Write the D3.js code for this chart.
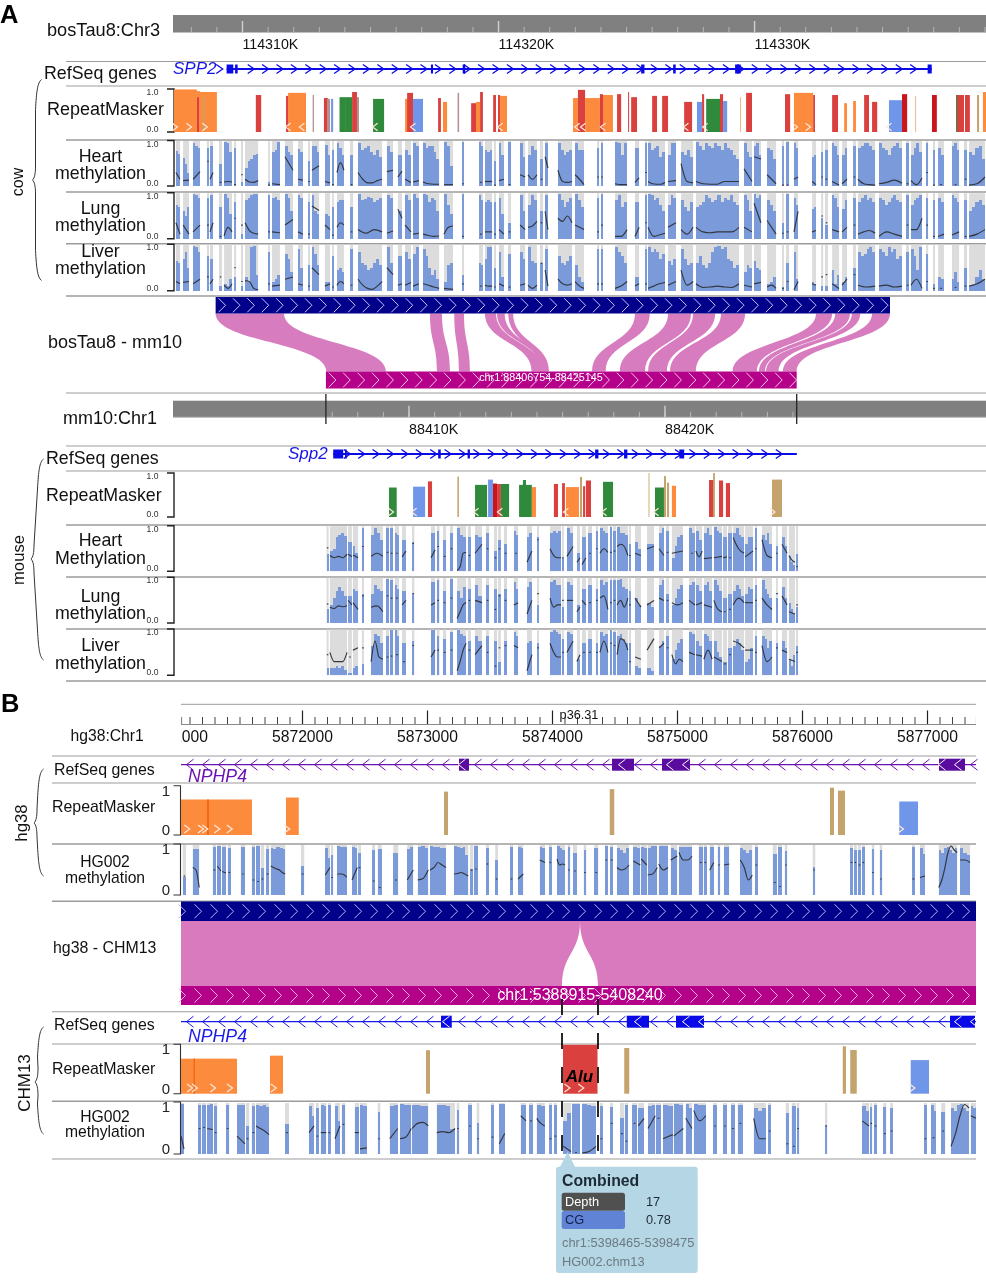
<!DOCTYPE html>
<html><head><meta charset="utf-8"><title>Genome browser tracks</title>
<script src="https://cdn.jsdelivr.net/npm/d3@7/dist/d3.min.js"></script>
<style>html,body{margin:0;padding:0;background:#fff}svg{display:block;font-family:"Liberation Sans",Arial,sans-serif;filter:blur(.35px)}</style>
</head><body><svg id="c" width="986" height="1280"></svg>
<script>
// ---------- Panel A data: positions in kb after the origins below ----------
const cowOrigin = 114300, mouseOrigin = 88400;
const cowDomain = [7.285, 39.04], mouseDomain = [0.781, 32.54];
const cowMajorTicks = [10, 20, 30], mouseMajorTicks = [10, 20];
const cowExons = [[9.38,9.64],[9.71,9.81],[17.36,17.44],[18.60,18.70],[25.57,25.70],[26.82,26.92],[29.24,29.46],[36.76,36.92]];
const mouseExons = [[7.04,7.43],[7.50,7.57],[11.14,11.24],[12.29,12.38],[17.27,17.40],[18.40,18.53],[20.56,20.75]];
const cowGeneSpan = [9.38,36.92], mouseGeneSpan = [7.04,25.15];
const cowAlignSpan = [8.95,35.29], mouseAlignSpan = [6.754,25.145];
// [cow start, cow end, mouse start, mouse end]
const cowMouseRibbons = [[8.95,11.62,6.77,9.10],[17.32,17.79,11.09,11.60],[18.27,18.65,11.95,12.38],[19.47,19.90,14.79,15.23],[19.94,20.24,15.23,15.35],[20.38,20.57,15.12,15.47],[25.33,25.91,17.15,17.68],[26.62,27.52,18.24,19.22],[27.60,28.46,19.34,20.08],[28.69,29.63,20.20,21.21],[32.40,33.03,22.64,23.59],[33.15,33.73,23.67,23.91],[33.80,34.13,23.95,24.44],[34.59,35.29,24.61,25.145]];
// [start, end, height, family]
const cowRepeats = [[7.32,8.22,.99,"LINE"],[8.22,8.34,.95,"LINE"],[8.34,9.00,.93,"LINE"],[8.22,8.30,.81,"SINE"],[8.46,8.52,.81,"Simple"],[10.52,10.73,.86,"SINE"],[11.78,12.48,.91,"LINE"],[11.70,11.78,.84,"SINE"],[12.74,12.79,.86,"Low"],[13.18,13.34,.79,"SINE"],[13.30,13.42,.77,"Low"],[13.46,13.54,.77,"DNA"],[13.79,14.04,.81,"LTR"],[14.04,14.28,.81,"LTR"],[14.28,14.47,.93,"SINE"],[14.47,14.55,.81,"Low"],[15.10,15.53,.77,"LTR"],[16.35,16.46,.77,"LINE"],[16.43,16.66,.91,"SINE"],[16.66,17.05,.77,"DNA"],[17.64,17.75,.79,"SINE"],[17.83,17.99,.70,"LINE"],[18.40,18.46,.91,"Low"],[18.93,19.12,.67,"SINE"],[19.12,19.28,.70,"LINE"],[19.28,19.39,.93,"SINE"],[19.79,19.90,.86,"SINE"],[19.98,20.06,.86,"SINE"],[20.06,20.33,.84,"LINE"],[22.91,23.10,.79,"LINE"],[23.10,23.38,.98,"SINE"],[23.38,23.96,.79,"LINE"],[23.96,24.08,.88,"SINE"],[24.08,24.47,.86,"LINE"],[24.63,24.79,.88,"SINE"],[25.06,25.10,.93,"SINE"],[25.18,25.41,.81,"SINE"],[26.00,26.19,.84,"SINE"],[26.39,26.62,.84,"SINE"],[27.25,27.56,.70,"SINE"],[27.75,27.95,.70,"DNA"],[27.95,28.03,.88,"SINE"],[28.11,28.65,.77,"LTR"],[28.65,28.77,.88,"SINE"],[28.77,28.93,.72,"DNA"],[29.43,29.47,.81,"Peach"],[29.67,29.90,.91,"SINE"],[31.19,31.39,.88,"SINE"],[31.54,32.29,.91,"LINE"],[32.29,32.36,.86,"SINE"],[33.03,33.26,.86,"SINE"],[33.50,33.61,.67,"LINE"],[33.85,33.96,.72,"LINE"],[34.28,34.47,.86,"SINE"],[34.59,34.79,.70,"SINE"],[35.25,35.76,.74,"DNA"],[35.76,35.96,.88,"DarkSINE"],[36.27,36.31,.84,"Peach"],[36.93,37.12,.86,"DarkSINE"],[37.87,37.95,.86,"LTR"],[37.91,38.18,.86,"SINE"],[38.22,38.41,.86,"SINE"],[38.69,38.77,.86,"Simple"],[38.92,39.04,.93,"LINE"]];
const cowRepeatArrows = [[7.36,1],[7.91,1],[8.53,1],[11.78,-1],[12.32,-1],[15.18,-1],[16.66,-1],[20.06,-1],[23.07,-1],[23.30,-1],[24.08,-1],[27.32,-1],[28.07,-1],[31.58,1],[32.09,1],[35.25,-1]];
const mouseRepeats = [[9.22,9.52,.67,"LTR"],[10.16,10.63,.69,"DNA"],[10.74,10.90,.81,"SINE"],[11.89,11.95,.92,"Simple"],[12.58,13.05,.73,"LTR"],[13.09,13.28,.85,"DNA"],[13.28,13.44,.76,"DarkSINE"],[13.44,13.59,.75,"SINE"],[13.59,13.91,.75,"LTR"],[14.30,14.80,.73,"LTR"],[14.45,14.57,.84,"LTR"],[14.80,14.96,.68,"LINE"],[15.66,15.82,.75,"SINE"],[15.98,16.09,.77,"SINE"],[16.13,16.64,.68,"LINE"],[16.68,16.76,.91,"Simple"],[16.80,16.88,.70,"SINE"],[16.91,17.11,.83,"SINE"],[17.58,17.97,.80,"LTR"],[19.34,19.41,1.0,"Pale"],[19.61,19.96,.67,"LTR"],[19.96,20.04,.93,"Simple"],[20.08,20.16,.78,"Simple"],[20.27,20.43,.71,"LINE"],[21.72,21.91,.84,"SINE"],[21.88,21.95,1.0,"Simple"],[22.11,22.27,.83,"SINE"],[22.38,22.54,.77,"SINE"],[24.18,24.57,.85,"Simple"]];
const mouseRepeatArrows = [[9.30,1],[10.20,-1],[12.62,-1],[13.55,-1],[16.13,-1],[17.62,-1],[19.65,-1],[24.20,1]];

const cowBlocks = [[7.40,7.56],[7.68,7.91],[8.07,8.34],[8.61,8.69],[8.73,8.85],[9.08,9.20],[9.28,9.59],[9.67,9.75],[9.94,10.02],[10.10,10.61],[11.00,11.07],[11.15,11.46],[11.66,11.97],[12.17,12.36],[12.56,12.64],[12.71,12.99],[13.22,13.42],[13.50,13.57],[13.69,13.96],[14.20,14.32],[14.51,15.45],[15.64,15.88],[16.07,16.23],[16.35,16.58],[16.66,16.89],[17.05,17.68],[17.87,18.22],[18.57,18.65],[19.24,19.39],[19.47,19.75],[19.82,19.90],[20.02,20.21],[20.37,20.49],[20.84,21.04],[21.15,21.50],[21.62,21.74],[21.82,21.93],[22.32,22.87],[22.99,23.34],[23.85,23.93],[24.00,24.08],[24.55,25.02],[25.33,25.49],[25.72,25.80],[25.84,26.50],[26.62,26.93],[27.13,27.60],[27.71,29.39],[29.59,29.90],[29.98,30.25],[30.49,30.84],[31.07,31.15],[31.23,31.35],[31.54,31.70],[32.25,32.40],[32.60,32.68],[32.75,32.87],[33.03,33.30],[33.42,33.61],[33.85,33.96],[34.04,34.71],[34.86,35.76],[35.92,36.03],[36.11,36.54],[36.70,36.78],[36.97,37.05],[37.17,37.40],[37.71,37.99],[38.18,38.30],[38.38,39.00]];
const cowHeart = [[.78,.72],[.62,.5,.3],[.95,.9,.85],[.85],[.9],[.5],[.98,.95,.75],[.85],[.1],[.4,.55,.6,.68,.72],[.1],[.75,.8,.98],[.88,.75,.7],[.82,.75],[.55],[.9,.88,.75],[.92,.7],[.8],[.95,.85,.7],[.7],[.95,.8,.85,.9,.75,.7,.8,.65],[.9,.75],[.7],[.8,.7],[.95,.9],[.95,.85,.9,.9,.75,.6],[.98,.9,.45],[.98],[.98,.9],[.8,.75,.8],[.55],[.95,.7],[.98],[.95,.65],[.7,.9,.8],[.6],[.95],[.95,.8,.7,.75,.8],[.95,.8,.8],[.85],[.95],[.98,.95,.7,.95],[.85],[.95],[.95,.8,.85,.9,.65,.75],[.7,.95,.95],[.75,.7,.8,.65],[.98,.9,.8,.95,.9,.85,.95,.9,.8,.95,.85,.8,.7,.6],[.95,.75,.65],[.9,.95,.7],[.85,.8,.6],[.9],[.98],[.95,.85],[.65,.7],[.75],[.8],[.95,.9,.7],[.7,.85],[.9],[.85,.9,.95,.95,.9,.8],[.95,.85,.8,.7,.85,.9,.95,.85],[.95],[.7,.85,.95,.75],[.95],[.8],[.85,.7],[.9,.95,.8],[.8],[.75,.7,.85,.9,.6]];
const cowHeartLine = [[.3,.15],[.12,.13],[.15,.32],[.55],[.15,.3],[.08],[.09,.1,.09],[.03],[.25],[.15,.09,.08,.12],[.02],[.05,.03],[.65,.35],[.15,.13],[.1],[.35,.45],[.1,.07],[.03],[.3,.52,.35],[.03],[.3,.15,.07,.07,.12,.15],[.32,.35],[.2,.33],[.15,.08],[.09,.12],[.09,.05,.04,.04],[.03,.03],[.05],[.08],[.1,.1],[.02],[.12,.15],[.03],[.25,.2],[.25,.15,.25],[.15],[.65,.4],[.35,.1,.08,.1],[.25,.15,.03],[.2],[.2],[.05,.03,.03],[.08,.18],[.3],[.1,.05,.04,.04,.08],[.1,.12],[.5,.1,.07],[.1,.05,.04,.04,.1,.1,.1],[.38,.1],[.65,.6],[.25,.05],[.02],[.02],[.15,.2],[.1,.03],[.2],[.15],[.1,.02],[.05,.15],[.2],[.15,.05,.03,.02],[.05,.08,.13,.06],[.05],[.12,.03,.18],[.3],[.02],[.03],[.03],[.15],[.02,.05,.2]];
const cowLung = [[.75,.7],[.6,.5,.7],[.98,.95,.9],[.9],[.95],[.7],[.98,.9,.55],[.8],[.1],[.85,.9,.95,.98,.98],[.95],[.9,.92,.85],[.98,.9,.6],[.95,.9],[.8],[.95,.6,.55],[.55,.5],[.7],[.8,.85,.85],[.7],[.98,.85,.88,.92,.9,.8,.85,.9],[.95,.9],[.6],[.95,.85],[.98,.9],[.98,.95,.8,.9,.85,.6],[.98,.75,.55],[.98],[.95,.85],[.8,.85,.8],[.8],[.9,.55],[.35],[.95,.6],[.75,.95,.85],[.6],[.95],[.98,.85,.7,.8,.9],[.98,.85,.7],[.9],[.98],[.85,.95,.7,.8],[.8],[.95],[.98,.95,.85,.9,.75,.6],[.75,.95,.9],[.85,.7,.6,.8],[.7,.75,.8,.95,.9,.8,.85,.95,.8,.9,.85,.95,.8,.75],[.95,.85,.6],[.98,.9,.95],[.85,.75,.6],[.35],[.98],[.9,.75],[.65,.7],[.45],[.3],[.95,.9,.7],[.65,.85],[.9],[.8,.9,.95,.85,.9,.8],[.9,.85,.75,.8,.9,.95,.85,.8],[.95],[.75,.85,.9,.95],[.9],[.85],[.9,.8],[.95,.9,.8],[.85],[.6,.7,.8,.85,.75]];
const cowLungLine = [[.35,.1],[.3,.1],[.15,.3],[.3],[.15,.35],[.05],[.06,.25,.15],[.45],[.3],[.35,.18,.12,.1],[.15],[.15,.13],[.3,.42],[.15,.1],[.1],[.72,.62],[.3,.2],[.08],[.25,.35,.3],[.15],[.2,.12,.2,.15],[.12,.17],[.65,.45],[.3,.15],[.1,.12],[.1,.07,.05,.06],[.1,.25,.28],[.05],[.1],[.15,.15],[.1],[.2,.1],[.15],[.3,.2],[.25,.28,.38],[.35],[.6,.2],[.45,.38,.5,.35],[.3,.2],[.15],[.3],[.05,.05,.2],[.05,.25],[.35],[.25,.05,.08,.12],[.25,.35],[.2,.1,.25],[.25,.15,.13,.15,.15,.15,.25],[.25,.15],[.78,.35],[.4,.1],[.12],[.15],[.15,.6],[.15,.18],[.5],[.35],[.2,.15],[.15,.25],[.3],[.1,.15,.18,.12],[.05,.15,.1,.05],[.3],[.2,.2,.45],[.3],[.05],[.05,.1],[.08,.15],[.05],[.05,.1,.2]];
const cowLiver = [[.65,.6],[.7,.85,.5],[.98,.95,.85],[.75],[.7],[.1],[.15,.1,.25],[.3],[.1],[.3,.2,.95,.98,.35],[.85],[.2,.25,.35],[.8,.7,.4],[.9,.5],[.55],[.95,.8,.55],[.2,.2],[.75],[.45,.5,.4],[.9],[.85,.6,.55,.45,.5,.6,.7,.55],[.95,.6],[.75],[.85,.7],[.8,.95],[.9,.75,.5,.35,.45,.25],[.2,.55,.6],[.35],[.6,.55],[.7,.95,.95],[.5],[.85,.3],[.8],[.85,.7],[.95,.65,.6],[.6],[.9],[.75,.6,.55,.65,.75],[.55,.3,.2],[.9],[.9],[.95,.85,.75,.6],[.3],[.9],[.95,.85,.9,.85,.7,.8],[.65,.55,.7],[.9,.7,.55,.6],[.6,.75,.55,.5,.6,.85,.95,.98,.9,.95,.7,.65,.5,.55],[.4,.55,.5],[.65,.5,.45],[.15,.2,.3],[.07],[.6],[.85,.25],[.2,.15],[.1],[.1],[.45,.15,.35],[.2,.3],[.5],[.85,.75,.8,.9,.95,.85],[.9,.85,.75,.95,.85,.9,.7,.75],[.85],[.9,.75,.45,.95],[.8],[.15],[.3,.25],[.25,.4,.2],[.5],[.1,.15,.3,.45,.25]];
const cowLiverLine = [[.2,.15],[.18,.2],[.15,.25],[.3],[.15,.25],[.3],[.12,.05,.15],[.5],[.2],[.22,.2,.05,.02],[.15],[.1,.12],[.25,.3],[.15,.12],[.1],[.5,.35],[.1,.15],[.08],[.12,.2,.15],[.12],[.25,.12,.05,.03,.1,.2],[.5,.35],[.12,.15],[.12,.18],[.1,.15],[.15,.12,.08,.05],[.05,.03],[.15],[.1],[.12,.1,.1],[.08],[.15,.1],[.08],[.12,.15],[.12,.05,.12],[.6],[.45,.1],[.25,.15,.12,.15],[.2,.1,.05],[.15],[.15],[.05,.1,.2],[.1,.15],[.15],[.05,.1,.15,.18],[.12,.2],[.45,.12,.2],[.15,.07,.08,.1,.08,.07,.15],[.12,.08],[.15,.18],[.08,.12,.05],[.05],[.2],[.02,.2],[.15,.12],[.3],[.35],[.15,.05],[.12,.25],[.35],[.12,.08,.1],[.1,.12,.08,.1],[.12],[.12,.25,.05],[.2],[.05],[.05],[.07],[.1],[.1,.15,.25]];

const mouseBlocks = [[6.78,6.86],[6.91,7.58],[7.62,7.77],[7.81,8.01],[8.16,8.24],[8.52,8.98],[9.10,9.22],[9.26,9.38],[9.45,9.61],[9.73,9.88],[10.12,10.21],[10.86,11.02],[11.09,11.19],[11.33,11.45],[11.60,11.72],[11.88,12.23],[12.30,12.42],[12.58,12.85],[13.01,13.13],[13.32,13.44],[13.48,13.59],[13.71,13.83],[14.10,14.26],[14.61,14.80],[15.00,15.08],[15.51,15.94],[15.98,16.05],[16.17,16.41],[16.56,16.68],[16.76,16.91],[16.99,17.15],[17.30,17.38],[17.46,17.77],[17.85,17.93],[17.97,18.09],[18.13,18.55],[18.59,18.67],[18.83,19.06],[19.30,19.57],[19.77,19.96],[20.04,20.16],[20.27,20.70],[20.94,21.17],[21.21,21.45],[21.52,21.84],[21.91,22.23],[22.27,22.42],[22.46,22.62],[22.66,23.09],[23.13,23.44],[23.52,23.59],[23.79,24.18],[24.34,24.41],[24.57,24.77],[24.84,25.08],[25.12,25.20]];
const mouseHeart = [[.38],[.45,.5,.75,.8,.85,.78],[.65],[.55,.4],[.95],[.8,.95,.85,.7],[.95],[.97],[.85,.8],[.7],[.65],[.85],[.9],[.7],[.85],[.95,.8,.75],[.75],[.8,.75],[.85],[.45],[.7],[.6],[.9,.8],[.75,.85],[.75],[.85,.9,.85,.9],[.3],[.95,.85],[.4],[.75],[.85],[.9],[.95,.9,.85],[.98],[.9],[.98,.85,.85,.8],[.6],[.65,.5],[.6,.6],[.85,.95],[.9],[.3,.55,.75,.8],[.95,.85],[.9,.7],[.85,.95,.8],[.98,.9,.85],[.75],[.85],[.85,.95,.8,.75],[.6,.75,.75],[.95],[.8,.7,.85,.6],[.55],[.75,.55],[.35,.2,.15],[.38]];
const mouseHeartLine = [[.52],[.35,.3,.33,.3,.38],[.38,.33],[.36,.3],[.55],[.33,.4,.33],[.42],[.4],[.4],[.32,.45],[.62],[.3,.48],[.55],[.33],[.5],[.02,.1,.4,.42],[.35],[.4,.6],[.5],[.3],[.5],[.4],[.4],[.2,.45],[.7],[.5,.35,.3,.3],[.3],[.33,.55],[.2,.3],[.15,.3],[.4],[.5],[.4,.5,.42],[.42],[.45],[.55,.6,.55,.35],[.35],[.4,.35],[.5,.55],[.5,.35],[.42],[.4,.45],[.4],[.45,.32,.45],[.28,.3],[.3,.33],[.3,.32],[.3],[.75,.5,.4],[.32,.45],[.5],[.7,.35,.3],[.4],[.6,.4],[.35,.25,.2],[.1]];
const mouseLung = [[.3],[.4,.55,.7,.8,.7,.6],[.6],[.75,.7],[.65],[.65,.85,.75,.7],[.98],[.95],[.85,.75],[.7],[.65],[.9],[.95],[.7],[.98],[.7,.55,.8],[.75],[.85,.6],[.85],[.75],[.65],[.75],[.9,.75],[.8,.9],[.4],[.9,.95,.85,.85],[.35],[.9,.85],[.4],[.75],[.85],[.75],[.95,.85,.9],[.95],[.95],[.95,.98,.8,.75],[.7],[.55,.4],[.45,.35],[.85,.95],[.65],[.4,.55,.75,.85],[.85,.9],[.85,.7],[.85,.9,.7],[.95,.85,.7],[.55],[.65],[.7,.85,.75,.6],[.65,.8,.75],[.85],[.95,.75,.65,.55],[.55],[.8,.55],[.45,.3,.2],[.35]];
const mouseLungLine = [[.42],[.35,.32,.38,.36,.38],[.5,.4],[.45,.3],[.6],[.35,.38,.25],[.6],[.55],[.55],[.4,.5],[.65],[.4,.45],[.5],[.45],[.55],[.1,.25,.4,.45],[.5],[.5,.45],[.5],[.3],[.6],[.5],[.4,.45],[.2,.5],[.65],[.55,.35,.4,.4],[.5],[.5,.5],[.25,.35],[.5,.4],[.45],[.5],[.55,.6,.3],[.45],[.5],[.4,.5,.35,.55],[.4],[.55,.35],[.4,.5],[.55,.5],[.5],[.45,.4,.45],[.5,.4],[.4,.45],[.4,.35],[.5,.3,.25],[.25],[.3],[.4,.55,.45],[.45,.45],[.5],[.55,.4,.3],[.65],[.6,.4],[.25,.2],[.4]];
const mouseLiver = [[.15],[.15,.15,.2,.15,.2,.12],[.05],[.15,.2],[.25],[.65,.9,.85,.7],[.85],[.98],[.98,.85],[.7],[.75],[.98],[.85],[.8],[.95],[.98,.9,.85],[.75],[.85,.75],[.85],[.75],[.3],[.75],[.95,.85],[.7,.75],[.7],[.95,.98,.95,.9],[.8],[.95,.9],[.35],[.7],[.8],[.7],[.95,.85,.9],[.98],[.95],[.85,.9,.8,.7],[.7],[.2,.15],[.15,.1],[.65,.75],[.85],[.35,.55,.7,.8],[.95,.9],[.75,.65],[.9,.85,.75],[.75,.5,.4],[.3],[.6],[.65,.8,.7,.55],[.3,.35,.6],[.85],[.85,.8,.6,.75],[.7],[.75,.6],[.35,.2,.45],[.65]];
const mouseLiverLine = [[.45],[.5,.3,.3,.3,.5],[.4],[.55,.6],[.6],[.3,.75,.4,.35],[.4],[.42],[.45],[.3],[.65],[.4,.55],[.55],[.5],[.55],[.1,.3,.55,.7],[.55],[.45,.65],[.5],[.2],[.6],[.65],[.65,.6],[.1,.45],[.6],[.7,.5,.4,.4],[.5],[.5,.75],[.3,.45],[.5],[.5],[.5],[.5,.75,.5],[.7],[.65],[.45,.8,.75,.55],[.3],[.4,.35],[.55,.8],[.6,.7],[.6],[.45,.25,.35,.3],[.5,.45],[.45,.42],[.35,.55,.35],[.4,.3],[.25],[.45],[.75,.7,.6],[.55,.55],[.5],[.65,.3,.4],[.6],[.55,.5],[.35,.3],[.5]];

// ---------- Panel B data: positions in bp after the origins below ----------
const hg38Origin = 5871000, chm13Origin = 5395382;
const hg38Domain = [32, 6392], chm13Domain = [0, 6360];
const hg38MajorTicks = [1000,2000,3000,4000,5000,6000];
const hg38Exons = [[2256,2336],[3480,3656],[3880,4104],[6096,6304]];
const chm13Exons = [[2080,2166],[3566,3744],[3960,4184],[6152,6352]];
const hg38Repeats = [[32,600,.72,"LINE"],[240,256,.72,"DarkLINE"],[872,974,.76,"LINE"],[2136,2168,.88,"Simple"],[3462,3498,.93,"Simple"],[5224,5256,.96,"Simple"],[5288,5344,.90,"Simple"],[5778,5928,.68,"DNA"]];
const hg38RepeatArrows = [[80,1],[190,1],[225,1],[320,1],[420,1],[880,1],[5790,1]];
const chm13Repeats = [[0,448,.71,"LINE"],[100,112,.71,"DarkLINE"],[712,816,.77,"LINE"],[1960,1992,.88,"Simple"],[3056,3332,.99,"SINE"],[3546,3586,.925,"Simple"],[5294,5320,.96,"Simple"],[5354,5406,.885,"Simple"],[5838,5984,.68,"DNA"]];
const chm13RepeatArrows = [[70,1],[110,1],[255,1],[390,1],[740,1],[3090,1],[3200,1],[5850,1]];
const hg38AlignNotch = 3224, chm13NotchStart = 3048, chm13NotchEnd = 3336;

const hg38Blocks = [[46,72],[126,178],[286,312],[322,352],[362,392],[406,432],[510,544],[598,624],[632,664],[670,698],[712,738],[750,866],[992,1018],[1186,1224],[1232,1250],[1282,1358],[1400,1442],[1450,1472],[1562,1584],[1606,1638],[1730,1770],[1842,1890],[1926,2010],[2024,2152],[2216,2330],[2344,2370],[2378,2406],[2472,2496],[2546,2568],[2664,2688],[2728,2770],[2902,2944],[2976,2998],[3040,3104],[3126,3146],[3168,3200],[3254,3274],[3338,3370],[3424,3446],[3466,3488],[3520,3616],[3650,3706],[3714,3758],[3766,3842],[3854,3928],[3950,4002],[4016,4120],[4174,4206],[4214,4240],[4262,4294],[4326,4346],[4376,4418],[4506,4602],[4624,4646],[4766,4798],[4808,4840],[4862,4882],[5086,5106],[5384,5408],[5416,5438],[5450,5470],[5480,5502],[5558,5578],[5622,5642],[5880,5902],[5944,5984],[6094,6242],[6264,6344]];
const hg38Meth = [[.37],[.93],[.97],[.98],[.97],[.94],[.97],[.97],[.98],[.55],[.92],[.95,.92,.97,.97,.95,.93],[.58],[.95,.75],[.8],[.98,.97,.97],[.97,.95],[.85],[.9],[.93],[.85],[.93,.97],[.97,.98,.95],[.98,.97,.96,.95,.95],[.98,.97,.95,.97,.8],[.52],[.98],[.95],[.7],[.97],[.97,.95],[.97,.95],[.97],[.98,.95,.9],[.97],[.85],[.9],[.95],[.98],[.97],[.95,.9,.85,.95],[.97,.95],[.97,.95],[.95,.98,.98],[.98,.98],[.95,.9],[.97,.97,.97],[.97],[.97],[.97],[.96],[.97],[.95,.9,.85,.9],[.97],[.82],[.96],[.88],[.57],[.95],[.9],[.9],[.97],[.92],[.9],[.97],[.95,.82],[.9,.85,.95,.97,.9,.85,.95],[.95,.85,.8]];
const hg38MethLine = [[.38],[.55,.5,.15],[.5],[.58,.48],[.47,.44],[.45],[.42],[.3],[.27],[.32],[.42],[.58,.55,.52,.5,.45,.42],[.42],[.4,.55],[.35],[.42,.42,.36],[.3,.55],[.55],[.28],[.15],[.3],[.3,.5],[.3,.33,.5],[.5,.55,.65,.6,.55],[.42,.43,.45,.42,.38],[.5],[.52],[.62],[.32],[.32],[.32,.42],[.7,.65],[.65],[.72,.6,.62,.6],[.5],[.48],[.45],[.45],[.7],[.7],[.55,.5,.52,.6],[.68,.6],[.72,.6],[.4,.42,.55],[.62,.5,.55],[.7,.78],[.85,.7,.7,.78],[.65],[.65],[.5,.65],[.6],[.6,.62],[.7,.55,.3,.4],[.6],[.25],[.17],[.6],[.5],[.65],[.65],[.6],[.65],[.45],[.32],[.32],[.35,.38],[.15,.3,.55,.85,.98,.9,.85],[.7,.7,.65]];

const chm13Blocks = [[0,24],[136,162],[168,200],[210,254],[264,290],[360,386],[448,512],[520,546],[566,592],[600,704],[832,864],[1024,1064],[1080,1102],[1118,1162],[1176,1198],[1232,1272],[1286,1314],[1390,1424],[1432,1486],[1574,1594],[1670,1734],[1752,1842],[1850,1978],[2046,2192],[2206,2226],[2298,2326],[2366,2386],[2480,2504],[2546,2590],[2718,2760],[2784,2816],[2846,2910],[2944,2968],[2984,3006],[3058,3120],[3128,3192],[3210,3320],[3352,3374],[3434,3456],[3512,3544],[3550,3576],[3608,3648],[3658,3704],[3736,3794],[3800,3840],[3856,3934],[3942,4018],[4038,4088],[4102,4198],[4258,4286],[4336,4368],[4400,4432],[4454,4496],[4582,4678],[4698,4720],[4838,4864],[4886,4918],[4928,4946],[5152,5170],[5450,5504],[5514,5530],[5544,5568],[5618,5642],[5674,5696],[5944,5966],[6000,6040],[6082,6114],[6160,6304],[6318,6360]];
const chm13Meth = [[.98],[.97],[.97],[.97,.98],[.95],[.97],[.97,.97],[.55],[.95],[.97,.95,.96,.93],[.58],[.95,.75],[.9],[.97,.95],[.97],[.95,.65],[.97],[.93,.93],[.97,.95],[.83],[.95,.97],[.98,.97,.97],[.97,.96,.95,.94],[.97,.97,.95,.5],[.87],[.97],[.6],[.97],[.98],[.97],[.97],[.97,.95],[.97],[.97],[.65,.8],[.98,.98],[.98,.97,.94],[.95],[.93],[.7],[.97],[.97],[.9],[.95,.97],[.97],[.97,.95],[.98,.97],[.98,.9],[.98,.97,.97],[.97],[.97],[.96],[.96],[.9,.85,.9],[.97],[.8],[.95],[.9],[.57],[.95,.85],[.93],[.97],[.92],[.9],[.97],[.97,.85],[.82],[.9,.85,.97,.98,.9,.85],[.95,.9]];
const chm13MethLine = [[.35,.1],[.5],[.52],[.5,.48],[.42],[.5],[.35,.2],[.3],[.42],[.55,.5,.45,.38],[.42],[.42,.55],[.35],[.42,.42],[.42],[.3,.55],[.58],[.42,.42],[.1,.12],[.3],[.3,.5],[.3,.33,.5],[.5,.6,.62,.55],[.42,.44,.42,.5],[.5],[.55],[.3],[.33],[.2,.4],[.75,.65],[.65],[.7,.6,.55],[.3],[.35],[.15,.05],[.03],[.02,.05,.15],[.3],[.6],[.4],[.25],[.6],[.55,.7],[.5,.75],[.7],[.3,.38],[.35,.5],[.7,.5],[.85,.65,.75],[.55],[.55],[.5],[.6],[.7,.3,.3],[.45],[.2],[.15],[.5],[.55],[.65,.55],[.6],[.55],[.4],[.45],[.3],[.32],[.45],[.15,.4,.75,.97,.9],[.75,.7]];

const tooltipRows = [["Depth","17"],["CG","0.78"]];
const familyColor = {LINE:"#fd8b3e",DarkLINE:"#f26a14",SINE:"#d9403e",DarkSINE:"#c9161c",LTR:"#2f8a3b",DNA:"#7096ea",Simple:"#c4a46c",Low:"#b59090",Peach:"#edb98a",Pale:"#e2d3b4"};

// ---------- helpers ----------
const svg = d3.select("#c");
const FONT = '"Liberation Sans",Arial,sans-serif';
function label(t,x,y,size,opt={}){
  return svg.append("text").attr("x",x).attr("y",y).attr("font-size",size)
    .attr("fill",opt.fill||"#111").attr("text-anchor",opt.anchor||"start")
    .attr("font-style",opt.italic?"italic":null).attr("font-weight",opt.bold?"bold":null)
    .attr("transform",opt.rot?`rotate(-90 ${x} ${y})`:null).text(t);
}
function rule(y,x0,x1,w=1){svg.append("line").attr("x1",x0).attr("x2",x1).attr("y1",y).attr("y2",y).attr("stroke","#9b9b9b").attr("stroke-width",w);}
function brace(x0,x1,y0,ym,y1){
  const p=d3.path();
  p.moveTo(x1,y0);
  p.bezierCurveTo(x1-4,y0+3,x1-5,y0+12,x1-6,y0+30);
  p.lineTo(x0+3,ym-14);
  p.bezierCurveTo(x0+3,ym-6,x0+2,ym-2,x0,ym);
  p.bezierCurveTo(x0+2,ym+2,x0+3,ym+6,x0+3,ym+14);
  p.lineTo(x1-6,y1-30);
  p.bezierCurveTo(x1-5,y1-12,x1-4,y1-3,x1,y1);
  svg.append("path").attr("d",p.toString()).attr("fill","none").attr("stroke","#333").attr("stroke-width",1);
}
function bracket(y0,y1,hi,lo,opt){
  const x=opt.x, t=opt.tick;
  svg.append("path").attr("d",`M${x-t},${y0}H${x}V${y1}H${x-t}`).attr("fill","none").attr("stroke",opt.color).attr("stroke-width",opt.w);
  label(hi,opt.lx,y0+opt.dhi,opt.size,{fill:opt.tcolor,anchor:"end"});
  label(lo,opt.lx,y1+opt.dlo,opt.size,{fill:opt.tcolor,anchor:"end"});
}
function chev(g,xs,y,w,h,color,sw=1.3){
  g.selectAll(null).data(xs).join("path")
    .attr("d",d=>`M${d-w/2},${y-h/2}L${d+w/2},${y}L${d-w/2},${y+h/2}`)
    .attr("fill","none").attr("stroke",color).attr("stroke-width",sw);
}
function ruler(x,y0,y1,minor,major){
  const g=svg.append("g");
  g.append("rect").attr("x",x.range()[0]).attr("width",x.range()[1]-x.range()[0]).attr("y",y0).attr("height",y1-y0).attr("fill","#808080");
  g.append("rect").attr("x",x.range()[0]).attr("width",x.range()[1]-x.range()[0]).attr("y",y1-.5).attr("height",1).attr("fill","#bdbdbd");
  g.selectAll(null).data(minor).join("line").attr("x1",x).attr("x2",x).attr("y1",y1-5.5).attr("y2",y1).attr("stroke","#b8b8b8").attr("stroke-width",1);
  g.selectAll(null).data(major).join("line").attr("x1",x).attr("x2",x).attr("y1",y1-11.5).attr("y2",y1).attr("stroke","#cfcfcf").attr("stroke-width",1.4);
}
function drawRepeats(x,y0,y1,rows,arrows,arrowY,aw,ah){
  const y=d3.scaleLinear([0,1],[y1,y0]);
  const g=svg.append("g");
  g.selectAll("rect").data(rows).join("rect")
    .attr("x",d=>x(d[0])).attr("width",d=>x(d[1])-x(d[0])).attr("y",d=>y(d[2])).attr("height",d=>y(0)-y(d[2]))
    .attr("fill",d=>familyColor[d[3]]);
  g.selectAll("path").data(arrows).join("path").attr("fill","none").attr("stroke","#ffe9dc").attr("stroke-width",1.2)
    .attr("d",d=>{const c=x(d[0]);const f=d[1];return `M${c-f*aw/2},${arrowY-ah/2}L${c+f*aw/2},${arrowY}L${c-f*aw/2},${arrowY+ah/2}`;});
}
function drawMeth(x,y0,y1,blocks,vals,lines){
  const y=d3.scaleLinear([0,1],[y1,y0]);
  const g=svg.append("g");
  g.append("g").selectAll("rect").data(blocks).join("rect").attr("x",d=>x(d[0])).attr("width",d=>x(d[1])-x(d[0])).attr("y",y(1)).attr("height",y(0)-y(1)).attr("fill","#dcdcdc");
  const bars=blocks.flatMap((b,i)=>{const v=vals[i]||[];const w=(b[1]-b[0])/v.length;return v.map((d,j)=>({a:b[0]+j*w,b:b[0]+(j+1)*w,v:d}));});
  g.append("g").attr("shape-rendering","crispEdges").selectAll("rect").data(bars).join("rect").attr("x",d=>x(d.a)).attr("width",d=>x(d.b)-x(d.a)).attr("y",d=>y(d.v)).attr("height",d=>y(0)-y(d.v)).attr("fill","#7a9ada");
  const gen=d3.line().curve(d3.curveMonotoneX).x(d=>d[0]).y(d=>d[1]);
  const paths=blocks.map((b,i)=>{
    const l=lines[i]||[];const a=x(b[0]),c=x(b[1]);
    if(!l.length) return null;
    if(l.length===1){const m=(a+c)/2;return gen([[m-.8,y(l[0])],[m+.8,y(l[0])]]);}
    return gen(l.map((v,j)=>[a+(c-a)*j/(l.length-1),y(v)]));
  }).filter(Boolean);
  g.append("g").selectAll("path").data(paths).join("path").attr("d",d=>d).attr("fill","none").attr("stroke","#33363d").attr("stroke-width",1.15);
}
function ribbon(xt,xb,a,b,c,d,y0,y1){
  const m=(y0+y1)/2,p=d3.path(),A=xt(a),B=xt(b),C=xb(c),D=xb(d);
  p.moveTo(A,y0);p.lineTo(B,y0);
  p.bezierCurveTo(B,m,D,m,D,y1);p.lineTo(C,y1);
  p.bezierCurveTo(C,m,A,m,A,y0);p.closePath();
  return p.toString();
}

// ---------- Panel A ----------
const cowX=d3.scaleLinear(cowDomain,[173,986]);
const mouseX=d3.scaleLinear(mouseDomain,[173,986]);
label("A",0,23,25.5,{bold:true,fill:"#000"});
label("bosTau8:Chr3",47,36,18.2);
ruler(cowX,15,32.5,d3.range(8,40),cowMajorTicks);
svg.append("g").selectAll("text").data(cowMajorTicks).join("text").attr("x",cowX).attr("y",49).attr("font-size",14.2).attr("fill","#111").text(d=>(cowOrigin+d)+"K");
[[61.5,1],[86,1],[140,1.6],[192,1.6],[243.7,1.6],[296,1.6]].forEach(r=>rule(r[0],66,986,r[1]));
label("SPP2",173,74,17,{italic:true,fill:"#1414e6"});
label("RefSeq genes",44,79,17.8);
(function(){
  const g=svg.append("g"),y=69;
  g.append("line").attr("x1",cowX(cowGeneSpan[0])).attr("x2",cowX(cowGeneSpan[1])).attr("y1",y).attr("y2",y).attr("stroke","#0a0ae6").attr("stroke-width",2);
  g.selectAll("rect").data(cowExons).join("rect").attr("x",d=>cowX(d[0])).attr("width",d=>cowX(d[1])-cowX(d[0])).attr("y",y-4.5).attr("height",9).attr("fill","#0a0ae6");
  chev(g.append("g"),d3.range(10.33,36.4,.5625).map(cowX).concat([cowX(9.1)]),y,6.5,9,"#0a0ae6",1.3);
})();
const cowTick={x:174,tick:7,color:"#222",w:1.4,lx:158.5,size:8.6,tcolor:"#333",dhi:6,dlo:0};
label("RepeatMasker",47,114.5,18);
bracket(89,132,"1.0","0.0",cowTick);
drawRepeats(cowX,89,132,cowRepeats,cowRepeatArrows,127,5,7.5);
[["Heart","methylation",140.5,186,161.5,179,cowHeart,cowHeartLine],["Lung","methylation",192.7,238.7,213.5,231,cowLung,cowLungLine],["Liver","methylation",244.3,290.7,256.5,274,cowLiver,cowLiverLine]].forEach(r=>{
  label(r[0],100.5,r[4],17.8,{anchor:"middle"});label(r[1],100.5,r[5],17.8,{anchor:"middle"});
  drawMeth(cowX,r[2]+.5,r[3],cowBlocks,r[6],r[7]);
  bracket(r[2],r[3],"1.0","0.0",cowTick);
});
brace(32.5,41.5,79.5,180,280.5);
label("cow",23,182,16,{rot:true,anchor:"middle",fill:"#111"});

// synteny A
(function(){
  const top=[297,313.5],bot=[371.5,388.5];
  svg.append("g").selectAll("path").data(cowMouseRibbons).join("path").attr("d",d=>ribbon(cowX,mouseX,d[0],d[1],d[2],d[3],top[1],bot[0])).attr("fill","#d87cc0");
  const a=svg.append("g");
  const bar=(x,span,yy,col,lineCol)=>{
    a.append("rect").attr("x",x(span[0])).attr("width",x(span[1])-x(span[0])).attr("y",yy[0]).attr("height",yy[1]-yy[0]).attr("fill",col);
    chev(a.append("g"),d3.range(span[0]+.25,span[1],.5625).map(x),(yy[0]+yy[1])/2,7,yy[1]-yy[0]-2.5,lineCol,1);
  };
  bar(cowX,cowAlignSpan,top,"#00008b","#c9c6f5");
  bar(mouseX,mouseAlignSpan,bot,"#b5008a","#f6c6e8");
  a.append("text").attr("x",541).attr("y",380.5).attr("font-size",10.8).attr("text-anchor","middle").attr("fill","#fff").text("chr1:88406754-88425145");
})();
label("bosTau8 - mm10",48,348,18);
label("mm10:Chr1",63,424,18);
ruler(mouseX,400.7,417.3,d3.range(7,26),mouseMajorTicks);
svg.append("g").selectAll("text").data(mouseMajorTicks).join("text").attr("x",mouseX).attr("y",434).attr("font-size",14.3).attr("fill","#111").text(d=>(mouseOrigin+d)+"K");
svg.append("g").selectAll("line").data(mouseAlignSpan).join("line").attr("x1",mouseX).attr("x2",mouseX).attr("y1",394).attr("y2",424).attr("stroke","#222").attr("stroke-width",1.3);
[[393,1],[446,1],[471,1],[525,1.6],[577,1.6],[629,1.6],[681,1.6]].forEach(r=>rule(r[0],66,986,r[1]));
label("Spp2",288,459,17,{italic:true,fill:"#1414e6"});
label("RefSeq genes",46,464,17.8);
(function(){
  const g=svg.append("g"),y=454;
  g.append("line").attr("x1",mouseX(mouseGeneSpan[0])).attr("x2",mouseX(mouseGeneSpan[1])).attr("y1",y).attr("y2",y).attr("stroke","#0a0ae6").attr("stroke-width",2);
  g.selectAll("rect").data(mouseExons).join("rect").attr("x",d=>mouseX(d[0])).attr("width",d=>mouseX(d[1])-mouseX(d[0])).attr("y",y-4.5).attr("height",9).attr("fill","#0a0ae6");
  chev(g.append("g"),d3.range(7.58,24.8,.5625).map(mouseX),y,6.5,9,"#0a0ae6",1.3);
})();
label("RepeatMasker",46,501,17.8);
bracket(473,517,"1.0","0.0",cowTick);
drawRepeats(mouseX,473,517,mouseRepeats,mouseRepeatArrows,512,5,7.5);
[["Heart","Methylation",525.7,571.3,546,564,mouseHeart,mouseHeartLine],["Lung","methylation",577.3,623,601.5,619,mouseLung,mouseLungLine],["Liver","methylation",629,675.3,651,669,mouseLiver,mouseLiverLine]].forEach(r=>{
  label(r[0],100.5,r[4],17.8,{anchor:"middle"});label(r[1],100.5,r[5],17.8,{anchor:"middle"});
  drawMeth(mouseX,r[2]+.5,r[3],mouseBlocks,r[6],r[7]);
  bracket(r[2],r[3],"1.0","0.0",cowTick);
});
brace(31,43.5,459,559,660);
label("mouse",24,560,16.7,{rot:true,anchor:"middle"});

// ---------- Panel B ----------
const hgX=d3.scaleLinear(hg38Domain,[181,976]);
const chmX=d3.scaleLinear(chm13Domain,[181,976]);
label("B",1,712,25.5,{bold:true,fill:"#000"});
svg.append("defs").append("clipPath").attr("id","clipB").append("rect").attr("x",181).attr("y",700).attr("width",795).attr("height",50);
rule(704.3,181,976,1);
const axisG=svg.append("g").attr("clip-path","url(#clipB)");
const axisScale=d3.scaleLinear(hg38Domain.map(d=>d+hg38Origin),[181,976]);
const minorAxis=d3.axisBottom(axisScale).tickValues(d3.range(5871100,5877400,100)).tickSize(-7).tickFormat("");
const majorAxis=d3.axisBottom(axisScale).tickValues([5871000].concat(hg38MajorTicks.map(d=>hg38Origin+d))).tickSize(-13.5).tickPadding(7).tickFormat(d3.format("d"));
const ga=axisG.append("g").attr("transform","translate(0,724)").call(minorAxis);
ga.select(".domain").attr("stroke","#888").attr("stroke-width",1.2);ga.selectAll("line").attr("stroke","#444");
const gb=axisG.append("g").attr("transform","translate(0,724)").call(majorAxis);
gb.select(".domain").remove();gb.selectAll("line").attr("stroke","#222").attr("stroke-width",1.2);
gb.selectAll("text").attr("font-size",15.7).attr("font-family",FONT).attr("fill","#111").attr("dy",".72em");
label("p36.31",579,718.5,12.7,{anchor:"middle"});
label("hg38:Chr1",70.5,741,15.7);
[[756,1.1],[783,1.1],[844,1.4],[901.3,1.4],[1011.7,1.1],[1044,1.1],[1101.3,1.4],[1159,1.2]].forEach(r=>rule(r[0],52,976,r[1]));

function humanGene(x,y,exons,color,exonColor,name,nameY){
  const g=svg.append("g");
  g.append("line").attr("x1",181).attr("x2",976).attr("y1",y).attr("y2",y).attr("stroke",color).attr("stroke-width",1.3);
  g.selectAll("rect").data(exons).join("rect").attr("x",d=>x(d[0])).attr("width",d=>x(d[1])-x(d[0])).attr("y",y-6).attr("height",12).attr("fill",exonColor);
  const inExon=p=>exons.some(e=>p>=x(e[0])&&p<=x(e[1]));
  const pos=d3.range(190,976,16);
  g.append("g").selectAll("path").data(pos).join("path").attr("d",p=>`M${p+3.5},${y-5.5}L${p-3.5},${y}L${p+3.5},${y+5.5}`).attr("fill","none").attr("stroke",p=>inExon(p)?"#ffffff":color).attr("stroke-width",1);
  label(name,188,nameY,17.7,{italic:true,fill:color});
}
label("RefSeq genes",54,774.5,15.9);
humanGene(hgX,764.7,hg38Exons,"#6a12b0","#5a0ca0","NPHP4",781.7);
const hTick={x:180.5,tick:7,color:"#333",w:1.1,lx:170,size:15,tcolor:"#222",dhi:10,dlo:0};
label("RepeatMasker",52,811.7,15.9);
bracket(785.7,835,"1","0",hTick);
drawRepeats(hgX,785.7,835,hg38Repeats,hg38RepeatArrows,829,5.5,8);
label("HG002",105,867,15.7,{anchor:"middle"});label("methylation",105,882.5,15.7,{anchor:"middle"});
drawMeth(hgX,845,895,hg38Blocks,hg38Meth,hg38MethLine);
bracket(844,895,"1","0",hTick);
brace(34,43.5,769,823,876);
label("hg38",27,823,16.8,{rot:true,anchor:"middle"});

// synteny B
(function(){
  const top=[901.5,921],bot=[986,1005],g=svg.append("g");
  g.append("path").attr("d",ribbon(hgX,chmX,hg38Domain[0],hg38AlignNotch,chm13Domain[0],chm13NotchStart,top[1],bot[0])).attr("fill","#d87abd");
  g.append("path").attr("d",ribbon(hgX,chmX,hg38AlignNotch,hg38Domain[1],chm13NotchEnd,chm13Domain[1],top[1],bot[0])).attr("fill","#d87abd");
  g.append("rect").attr("x",181).attr("width",795).attr("y",top[0]).attr("height",top[1]-top[0]).attr("fill","#00008b");
  g.append("rect").attr("x",181).attr("width",795).attr("y",bot[0]).attr("height",bot[1]-bot[0]).attr("fill","#b5008a");
  chev(g.append("g"),d3.range(182,976,16),(top[0]+top[1])/2,7,14,"#b9b6f2",1);
  chev(g.append("g"),d3.range(182,976,16),(bot[0]+bot[1])/2,7,14,"#f4b4e0",1);
  g.append("text").attr("x",580).attr("y",1000).attr("font-size",16).attr("text-anchor","middle").attr("fill","#fff").text("chr1:5388915-5408240");
})();
label("hg38 - CHM13",53,952.7,15.9);
label("RefSeq genes",54,1030,15.9);
humanGene(chmX,1021.7,chm13Exons,"#1a1ae6","#0a0ae6","NPHP4",1041.7);
label("RepeatMasker",52,1074,15.9);
bracket(1044.3,1093.7,"1","0",hTick);
drawRepeats(chmX,1044.3,1093.7,chm13Repeats,chm13RepeatArrows,1088,5.5,8);
label("Alu",579.5,1081.7,17,{italic:true,bold:true,fill:"#000",anchor:"middle"});
label("HG002",105,1121.5,15.7,{anchor:"middle"});label("methylation",105,1137,15.7,{anchor:"middle"});
drawMeth(chmX,1103,1154,chm13Blocks,chm13Meth,chm13MethLine);
bracket(1102,1154,"1","0",hTick);
brace(35,43.5,1027,1082,1134);
label("CHM13",30,1083,17,{rot:true,anchor:"middle"});
// dashed boundary of the Alu insertion
[chm13NotchStart,chm13NotchEnd].forEach(d=>{
  svg.append("line").attr("x1",chmX(d)).attr("x2",chmX(d)).attr("y1",999).attr("y2",1159).attr("stroke","#111").attr("stroke-width",1.8).attr("stroke-dasharray","16,18");
});

// tooltip
(function(){
  const g=svg.append("g");
  g.append("path").attr("d","M560,1167L567.7,1151.7L575,1167Z").attr("fill","#b5d6e4");
  g.append("rect").attr("x",556).attr("y",1166.7).attr("width",141.7).attr("height",106.3).attr("rx",3).attr("fill","#b5d6e4");
  g.append("text").attr("x",562).attr("y",1186).attr("font-size",15.8).attr("font-weight","bold").attr("fill","#1d2b36").text("Combined");
  const rows=g.selectAll("g").data(tooltipRows).join("g").attr("transform",(d,i)=>`translate(0,${1192.7+i*18.2})`);
  rows.append("rect").attr("x",561.7).attr("width",63.3).attr("height",18).attr("rx",2.5).attr("fill",(d,i)=>i?"#6083d6":"#505050");
  rows.append("text").attr("x",565).attr("y",13.5).attr("font-size",12.8).attr("fill",(d,i)=>i?"#14204a":"#fff").text(d=>d[0]);
  rows.append("text").attr("x",646).attr("y",13.5).attr("font-size",12.8).attr("fill","#1d2b36").text(d=>d[1]);
  g.append("text").attr("x",562).attr("y",1247).attr("font-size",12.8).attr("fill","#6c7a82").text("chr1:5398465-5398475");
  g.append("text").attr("x",562).attr("y",1265.5).attr("font-size",12.8).attr("fill","#6c7a82").text("HG002.chm13");
})();
</script></body></html>
